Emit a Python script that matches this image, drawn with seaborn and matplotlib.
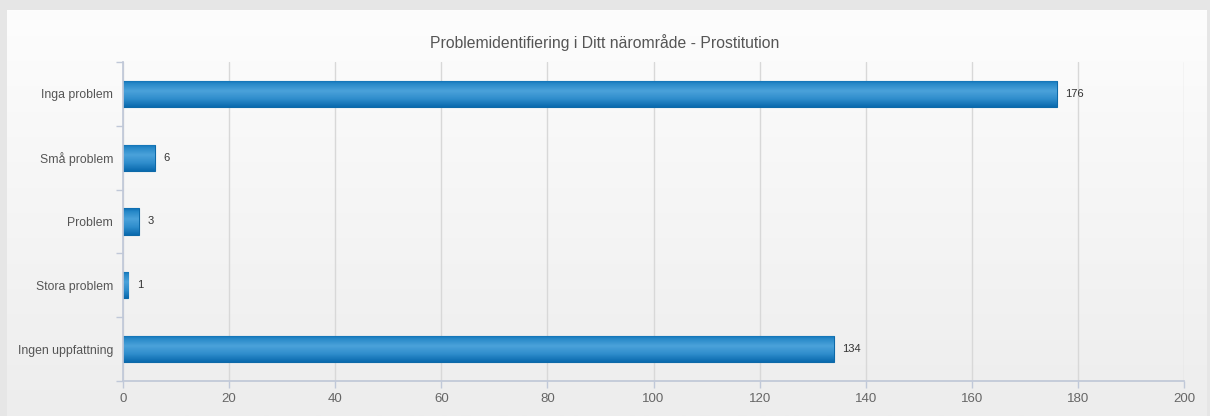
import numpy as np
import pandas as pd
import matplotlib
matplotlib.use("Agg")
import matplotlib.pyplot as plt
from matplotlib.colors import LinearSegmentedColormap
import seaborn as sns

# data
categories = ["Inga problem", "Små problem", "Problem", "Stora problem", "Ingen uppfattning"]
counts = [176, 6, 3, 1, 134]
x_ticks = [0, 20, 40, 60, 80, 100, 120, 140, 160, 180, 200]
title = "Problemidentifiering i Ditt närområde - Prostitution"

df = pd.DataFrame({"kategori": categories, "antal": counts})

sns.set_theme(style="white")
plt.rcParams["font.family"] = ["Liberation Sans", "DejaVu Sans"]

fig = plt.figure(figsize=(12.1, 4.16), dpi=100)
fig.patch.set_facecolor("#e6e6e6")

# panel with soft vertical gradient
bg = fig.add_axes([7 / 1210, 0, 1200 / 1210, 1 - 10 / 416])
grad = np.linspace(0, 1, 256).reshape(-1, 1)
bg.imshow(grad, aspect="auto", cmap=LinearSegmentedColormap.from_list(
    "panel", ["#fdfdfd", "#ededed"]), extent=[0, 1, 0, 1], origin="upper")
bg.set_axis_off()

ax = fig.add_axes([123 / 1210, 1 - 381 / 416, (1184 - 123) / 1210, (381 - 62) / 416])
ax.set_facecolor("none")

sns.barplot(data=df, x="antal", y="kategori", orient="h", width=0.41,
            color="#2b88c9", edgecolor="#0d69a8", linewidth=0.8, saturation=1, ax=ax)

# cylinder-like shading inside each bar
bar_cmap = LinearSegmentedColormap.from_list(
    "bar", [(0, "#0b6cb0"), (0.12, "#2688c8"), (0.4, "#4ba2da"), (0.7, "#2f8dcc"), (1, "#0a6aae")])
shade = np.linspace(0, 1, 64).reshape(-1, 1)
for p in list(ax.patches):
    x0, y0, w, h = p.get_x(), p.get_y(), p.get_width(), p.get_height()
    im = ax.imshow(shade, aspect="auto", cmap=bar_cmap, origin="upper",
                   extent=[x0, x0 + w, y0 + h, y0], zorder=p.get_zorder() + 0.1)
    im.set_clip_path(p)
ax.set_aspect("auto")

ax.bar_label(ax.containers[0], labels=[str(c) for c in counts], padding=6,
             fontsize=8, color="#333333")

ax.set_xlim(0, 200)
ax.set_ylim(4.5, -0.5)
ax.set_xticks(x_ticks)
ax.set_xticklabels([str(t) for t in x_ticks])
ax.grid(axis="x", color="#d8d8d8", linewidth=1)
ax.set_axisbelow(True)
ax.set_xlabel("")
ax.set_ylabel("")

for s in ["top", "right"]:
    ax.spines[s].set_visible(False)
ax.spines["left"].set_color("#c0c8d8")
ax.spines["bottom"].set_color("#c0c8d8")

ax.set_yticks(np.arange(-0.5, 5, 1), minor=True)
ax.tick_params(axis="y", which="both", left=True)
ax.tick_params(axis="x", which="both", bottom=True)
ax.tick_params(axis="y", which="major", length=0, pad=7, labelsize=8.8, labelcolor="#555555")
ax.tick_params(axis="y", which="minor", length=5, color="#c0c8d8", width=1, direction="out")
ax.tick_params(axis="x", which="major", length=5, color="#c0c8d8", width=1, direction="out",
               labelsize=9.5, labelcolor="#666666", pad=4)

fig.text(0.5, 1 - 43 / 416, title, ha="center", va="center", fontsize=11.3, color="#555555")

fig.savefig("out.png", dpi=100, facecolor=fig.get_facecolor())
